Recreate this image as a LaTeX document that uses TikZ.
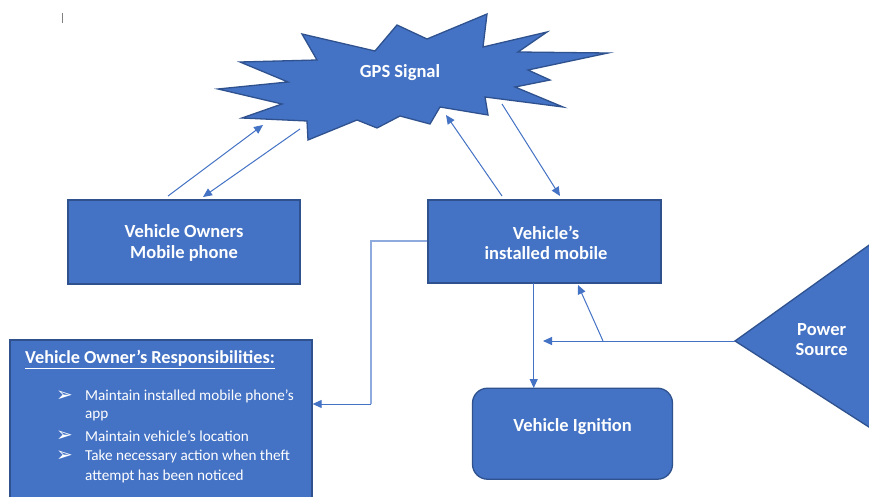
\documentclass[tikz,border=0pt]{standalone}
\usepackage{fontspec}
\setmainfont{Carlito}
\newfontfamily\dejavu{DejaVu Sans}
\usetikzlibrary{arrows.meta}
\definecolor{boxblue}{HTML}{4472C4}
\definecolor{boxedge}{HTML}{2F528F}
\definecolor{linkblue}{HTML}{4472C4}
\definecolor{lightlink}{HTML}{8FAADC}
\tikzset{
  shapebox/.style={draw=boxedge, fill=boxblue, line width=1.3pt, inner sep=0pt},
  boxtext/.style={text=white, font=\fontsize{18.5}{20.5}\selectfont\bfseries, align=center, inner sep=0pt},
  listtext/.style={text=white, font=\fontsize{15.2}{20}\selectfont, anchor=west, inner sep=0pt},
  bullet/.style={text=white, font=\dejavu\fontsize{20}{20}\selectfont, anchor=west, inner sep=0pt},
  arr/.style={draw=linkblue, line width=1pt, -{Triangle[length=9pt,width=8pt]}},
}
\begin{document}
\begin{tikzpicture}[x=1pt,y=-1pt]
\useasboundingbox (0,0) rectangle (869,497);
\clip (0,0) rectangle (869,497);
\fill[white] (0,0) rectangle (869,497);

% cursor mark
\draw[gray, line width=1.2pt] (62.7,13) -- (62.7,23);

% GPS starburst
\filldraw[draw=boxedge, fill=boxblue, line width=1.3pt, line join=miter]
  (218,89) -- (288,82) -- (240,62) -- (317,60) -- (302,34) -- (375,51) -- (397,25)
  -- (427,39) -- (487,14) -- (483,47) -- (547,32) -- (518,52) -- (608,53) -- (528,70)
  -- (550,80) -- (515,87) -- (563,107) -- (485,97) -- (488,115) -- (440,107) -- (430,124)
  -- (400,116) -- (377,128) -- (357,120) -- (308,140) -- (307,121) -- (242,118) -- (282,104) -- cycle;
\node[boxtext] (gps) at (400,73) {GPS Signal};

% boxes
\node[shapebox, minimum width=232pt, minimum height=84pt] (owners) at (184,242) {};
\node[boxtext] (ownerstxt) at (184,243) {Vehicle Owners\\Mobile phone};

\node[shapebox, minimum width=233pt, minimum height=83pt] (installed) at (544.5,241.5) {};
\node[boxtext] (installedtxt) at (546,243) {Vehicle’s\\installed mobile};

\node[shapebox, minimum width=302pt, minimum height=180pt] (resp) at (161,430) {};
\node[text=white, font=\fontsize{18.3}{20}\selectfont\bfseries, anchor=west, inner sep=0pt] (resphead) at (25,359.5) {\underline{Vehicle Owner’s Responsibilities:}};
\node[bullet] (b1) at (56,396) {➢};
\node[listtext] (l1) at (85,396) {Maintain installed mobile phone’s};
\node[listtext] (l1b) at (85,416) {app};
\node[bullet] (b2) at (56,436) {➢};
\node[listtext] (l2) at (85,436) {Maintain vehicle’s location};
\node[bullet] (b3) at (56,456) {➢};
\node[listtext] (l3) at (85,456) {Take necessary action when theft};
\node[listtext] (l3b) at (85,476) {attempt has been noticed};

\node[shapebox, rounded corners=15pt, minimum width=200pt, minimum height=91pt] (ignition) at (572.5,433.7) {};
\node[boxtext] (igntxt) at (572.5,427) {Vehicle Ignition};

% power source triangle
\coordinate (ptip) at (735,341);
\filldraw[draw=boxedge, fill=boxblue, line width=1.3pt] (ptip) -- (900,223) -- (900,447) -- cycle;
\node[boxtext] (power) at (821.7,339.5) {Power\\Source};

% connectors
\coordinate (a1s) at (168,196); \coordinate (a1e) at (263,125);
\coordinate (a2s) at (300,129); \coordinate (a2e) at (203,197);
\coordinate (a3s) at (502,196); \coordinate (a3e) at (446,115);
\coordinate (a4s) at (502,104); \coordinate (a4e) at (560,196);
\draw[arr] (a1s) -- (a1e);
\draw[arr] (a2s) -- (a2e);
\draw[arr] (a3s) -- (a3e);
\draw[arr] (a4s) -- (a4e);

\draw[draw=lightlink, line width=1.3pt] (installed.west |- 0,241) -- (371,241) -- (371,404);
\draw[arr] (371,404) -- (resp.east |- 0,404);

\draw[arr] (533.7,283) -- (533.7,388);
\coordinate (branch) at (603,341);
\coordinate (powerend) at (543,341);
\draw[arr] (ptip) -- (powerend);
\draw[arr] (branch) -- (578,285);
\end{tikzpicture}
\end{document}
